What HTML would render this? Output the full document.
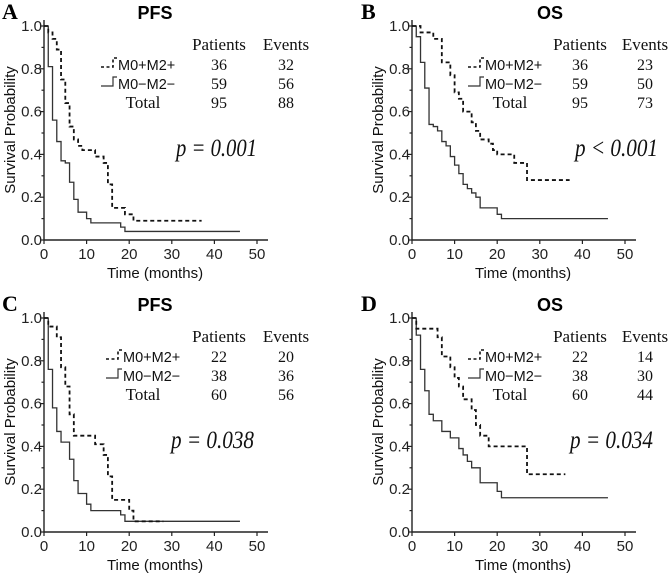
<!DOCTYPE html>
<html><head><meta charset="utf-8"><style>
body{margin:0;background:#fff;}
svg{display:block;}
.sans{font-family:"Liberation Sans",Arial,sans-serif;}
.serif{font-family:"Liberation Serif","Times New Roman",serif;}
</style></head><body>
<svg id="fig" width="669" height="574" viewBox="0 0 669 574" xmlns="http://www.w3.org/2000/svg"></svg>
<script>
// ---- data (times are step times in months, surv values after each step) ----
const xTicks=[0,10,20,30,40,50];
const yTicks=[0.0,0.2,0.4,0.6,0.8,1.0];
const yTickLabels=["0.0","0.2","0.4","0.6","0.8","1.0"];

const aPosT=[0,1,2,3,4,5,6,7,8,9,12,14,15,16,19,21];
const aPosS=[1,0.97,0.94,0.89,0.75,0.64,0.53,0.47,0.44,0.42,0.39,0.36,0.26,0.15,0.12,0.09];
const aPosEnd=37;
const aNegT=[0,1,2,3,4,5,6,7,8,10,11,18,19];
const aNegS=[1,0.81,0.56,0.46,0.37,0.36,0.27,0.19,0.13,0.10,0.08,0.06,0.04];
const aNegEnd=46;

const bPosT=[0,2,5,7,9,10,11,12,14,15,16,18,19,20,24,27];
const bPosS=[1,0.97,0.94,0.83,0.77,0.69,0.66,0.60,0.55,0.51,0.47,0.45,0.42,0.40,0.36,0.28];
const bPosEnd=37;
const bNegT=[0,1,2,3,4,5,6,7,8,9,10,11,12,13,14,15,16,20,21];
const bNegS=[1,0.95,0.83,0.71,0.54,0.53,0.51,0.46,0.44,0.39,0.35,0.31,0.26,0.24,0.22,0.20,0.15,0.12,0.10];
const bNegEnd=46;

const cPosT=[0,1,3,4,5,6,7,12,14,15,16,20,21];
const cPosS=[1,0.96,0.91,0.77,0.68,0.55,0.45,0.41,0.36,0.26,0.15,0.10,0.05];
const cPosEnd=28;
const cNegT=[0,1,2,3,4,6,7,8,10,11,18,19];
const cNegS=[1,0.76,0.58,0.47,0.42,0.34,0.24,0.18,0.13,0.10,0.08,0.05];
const cNegEnd=46;

const dPosT=[0,1,6,7,9,10,11,12,14,15,16,18,27];
const dPosS=[1,0.95,0.91,0.82,0.77,0.72,0.68,0.62,0.57,0.50,0.45,0.40,0.27];
const dPosEnd=36;
const dNegT=[0,1,2,3,4,5,7,9,11,12,13,14,16,20,21];
const dNegS=[1,0.92,0.76,0.66,0.55,0.52,0.47,0.44,0.39,0.36,0.33,0.30,0.23,0.19,0.16];
const dNegEnd=46;

const panelLetters=["A","B","C","D"];
const panelTitles=["PFS","OS","PFS","OS"];
const posCounts=[[36,32],[36,23],[22,20],[22,14]];
const negCounts=[[59,56],[59,50],[38,36],[38,30]];
const totalCounts=[[95,88],[95,73],[60,56],[60,44]];
const pLabels=["p = 0.001","p < 0.001","p = 0.038","p = 0.034"];

// ---- drawing ----
const NS="http://www.w3.org/2000/svg";
const svg=document.getElementById('fig');
function el(tag,attrs,parent,text){const e=document.createElementNS(NS,tag);for(const k in attrs)e.setAttribute(k,attrs[k]);if(text!==undefined)e.textContent=text;(parent||svg).appendChild(e);return e;}

const panels=[
 {ox:44,oy:26,pT:aPosT,pS:aPosS,pE:aPosEnd,nT:aNegT,nS:aNegS,nE:aNegEnd,legX:101,colP:219,colE:286,totX:143,pX:176,pW:81},
 {ox:412,oy:26,pT:bPosT,pS:bPosS,pE:bPosEnd,nT:bNegT,nS:bNegS,nE:bNegEnd,legX:468,colP:580,colE:645,totX:510,pX:575,pW:83},
 {ox:44,oy:318,pT:cPosT,pS:cPosS,pE:cPosEnd,nT:cNegT,nS:cNegS,nE:cNegEnd,legX:106,colP:219,colE:286,totX:143,pX:171,pW:83},
 {ox:412,oy:318,pT:dPosT,pS:dPosS,pE:dPosEnd,nT:dNegT,nS:dNegS,nE:dNegEnd,legX:468,colP:580,colE:645,totX:510,pX:570,pW:83}
];
const W=213,H=214;

panels.forEach((p,i)=>{
 const g=el('g',{});
 
 
 const xs=t=>p.ox+t/50*W;
 const ys=v=>p.oy+H-v*H;
 const ax=el('path',{d:`M${p.ox},${p.oy-6}V${p.oy+H}H${p.ox+W+11}`,fill:'none',stroke:'#222','stroke-width':1.4},g);
 
 
 for(let k=0;k<=10;k++){const y=ys(k/10);el('line',{x1:p.ox-(k%2?2.5:4),x2:p.ox,y1:y,y2:y,stroke:'#222','stroke-width':1.2},g);}
 yTicks.forEach((v,k)=>{
  const t=el('text',{x:p.ox-2,y:ys(v)+5,'text-anchor':'end','font-size':15,fill:'#222',class:'sans'},g,yTickLabels[k]);
  
  
 });
 xTicks.forEach(v=>{
  const x=xs(v);
  el('line',{x1:x,x2:x,y1:p.oy+H,y2:p.oy+H+4,stroke:'#222','stroke-width':1.2},g);
  const t=el('text',{x:x,y:p.oy+H+19,'text-anchor':'middle','font-size':15,fill:'#222',class:'sans'},g,String(v));
  
  
 });
 const xt=el('text',{x:p.ox+111,y:p.oy+H+38,'text-anchor':'middle','font-size':15,fill:'#111',class:'sans'},g,'Time (months)');
 
 
 const yt=el('text',{x:0,y:0,'text-anchor':'middle','font-size':15,fill:'#111',class:'sans',transform:`translate(${p.ox-29},${p.oy+104}) rotate(-90)`},g,'Survival Probability');
 
 
 const lt=el('text',{x:p.ox-42+(i%2?-9:0),y:p.oy-7,'font-size':22,'font-weight':'bold',fill:'#000',class:'serif'},g,panelLetters[i]);
 
 
 const tt=el('text',{x:p.ox+111+(i%2?27:0),y:p.oy-7,'text-anchor':'middle','font-size':18,'font-weight':'bold',fill:'#000',class:'sans'},g,panelTitles[i]);
 
 
 function stepPath(T,S,end){let d=`M${xs(T[0])},${ys(S[0])}`;for(let k=1;k<T.length;k++){d+=`H${xs(T[k])}V${ys(S[k])}`;}d+=`H${xs(end)}`;return d;}
 const neg=el('path',{d:stepPath(p.nT,p.nS,p.nE),fill:'none',stroke:'#333','stroke-width':1.3},g);
 
 
 const pos=el('path',{d:stepPath(p.pT,p.pS,p.pE),fill:'none',stroke:'#111','stroke-width':1.8,'stroke-dasharray':'4,3'},g);
 
 
 const L=p.oy;
 const hp=el('text',{x:p.colP,y:L+24,'text-anchor':'middle','font-size':17,fill:'#111',class:'serif'},g,'Patients');
 
 
 const he=el('text',{x:p.colE,y:L+24,'text-anchor':'middle','font-size':17,fill:'#111',class:'serif'},g,'Events');
 
 
 const rows=[['M0+M2+',posCounts[i],true],['M0\u2212M2\u2212',negCounts[i],false],['Total',totalCounts[i],null]];
 rows.forEach((r,k)=>{
  const by=L+44+k*19;
  const mid=by-5;
  if(r[2]===true){
   const s=el('path',{d:`M${p.legX},${mid+2}H${p.legX+12}V${mid-7}H${p.legX+16}`,fill:'none',stroke:'#111','stroke-width':1.6,'stroke-dasharray':'3,2.5'},g);
   
   
  } else if(r[2]===false){
   const s=el('path',{d:`M${p.legX},${mid+2}H${p.legX+12}V${mid-7}H${p.legX+16}`,fill:'none',stroke:'#333','stroke-width':1.2},g);
   
   
  }
  let lab;
  if(r[2]===null) lab=el('text',{x:p.totX,y:by,'text-anchor':'middle','font-size':17,fill:'#111',class:'serif'},g,r[0]);
  else lab=el('text',{x:p.legX+17,y:by,'font-size':14.5,fill:'#111',class:'sans'},g,r[0]);
  
  
  const n1=el('text',{x:p.colP,y:by,'text-anchor':'middle','font-size':16,fill:'#111',class:'serif'},g,String(r[1][0]));
  
  
  const n2=el('text',{x:p.colE,y:by,'text-anchor':'middle','font-size':16,fill:'#111',class:'serif'},g,String(r[1][1]));
  
  
 });
 const pv=el('text',{x:p.pX,y:p.oy+130,'font-size':25,'font-style':'italic',fill:'#111',class:'serif',textLength:p.pW,lengthAdjust:'spacingAndGlyphs'},g,pLabels[i]);
 
 
});
</script>
</body></html>
